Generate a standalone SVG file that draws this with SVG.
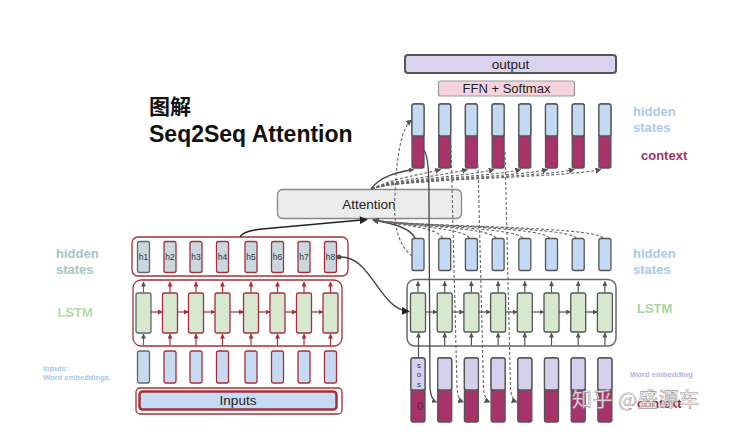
<svg xmlns="http://www.w3.org/2000/svg" width="733" height="437" viewBox="0 0 733 437">
<style>
.sans{font-family:"Liberation Sans",Arial,sans-serif}
.b{font-weight:bold}
.encR{stroke:#a3303c;stroke-width:1.3}
.encG{stroke:#666;stroke-width:1.3}
.dec{stroke:#555;stroke-width:1.3}
.hid{fill:#c9d8de}
.lstm{fill:#d6e9cf}
.emb{fill:#c6dbf2}
.dhid{fill:#c3daf5}
.ctx{fill:#a8336a}
.lav{fill:#d6d0ee}
.ra{stroke:#a3303c;stroke-width:1.2;fill:none;marker-end:url(#mr)}
.ga{stroke:#555;stroke-width:1.2;fill:none;marker-end:url(#mg)}
.ga0{stroke:#666;stroke-width:1.2;fill:none;marker-end:url(#mg)}
.dsh{stroke:#666;stroke-width:1.1;fill:none;stroke-dasharray:3 2}
.dsa{stroke:#666;stroke-width:1.1;fill:none;stroke-dasharray:3 2;marker-end:url(#md)}
.hl{font-size:8.5px;fill:#333;text-anchor:middle}
</style>
<defs>
<marker id="mr" viewBox="0 0 10 10" refX="9" refY="5" markerWidth="5" markerHeight="5" markerUnits="userSpaceOnUse" orient="auto"><path d="M0,0 L10,5 L0,10 z" fill="#a3303c"/></marker>
<marker id="mg" viewBox="0 0 10 10" refX="9" refY="5" markerWidth="5" markerHeight="5" markerUnits="userSpaceOnUse" orient="auto"><path d="M0,0 L10,5 L0,10 z" fill="#555"/></marker>
<marker id="md" viewBox="0 0 10 10" refX="9" refY="5" markerWidth="6" markerHeight="6" markerUnits="userSpaceOnUse" orient="auto"><path d="M0,0 L10,5 L0,10 z" fill="#555"/></marker>
<marker id="mb" viewBox="0 0 10 10" refX="9" refY="5" markerWidth="8" markerHeight="8" markerUnits="userSpaceOnUse" orient="auto"><path d="M0,0 L10,5 L0,10 z" fill="#222"/></marker>
</defs>
<rect width="733" height="437" fill="#fff"/>

<g id="title" class="sans b" fill="#111">
<text x="149" y="114" font-size="21" font-family="'Noto Sans CJK SC',sans-serif" font-weight="bold">图解</text>
<text x="149" y="141.5" font-size="23">Seq2Seq Attention</text>
</g>

<g id="left-labels" class="sans b">
<text x="56" y="258" font-size="13" fill="#a3c6c2">hidden</text>
<text x="56" y="274" font-size="13" fill="#a3c6c2">states</text>
<text x="57.5" y="317" font-size="13" fill="#b8d8a8">LSTM</text>
<text x="43" y="371" font-size="7.6" fill="#a9c6ea">Inputs:</text>
<text x="43" y="380" font-size="7.6" fill="#a9c6ea">Word embeddings</text>
</g>

<g id="right-labels" class="sans b">
<text x="633" y="116" font-size="13" fill="#a9c9ef">hidden</text>
<text x="633" y="132" font-size="13" fill="#a9c9ef">states</text>
<text x="641" y="160" font-size="13" fill="#a23465">context</text>
<text x="633" y="258" font-size="13" fill="#a9c9ef">hidden</text>
<text x="633" y="274" font-size="13" fill="#a9c9ef">states</text>
<text x="637" y="313" font-size="13" fill="#a8d5a0">LSTM</text>
<text x="630" y="377" font-size="7.7" fill="#b9b2dd">Word embedding</text>
<text x="637" y="408" font-size="12.5" fill="#8a2a50">context</text>
</g>

<!-- Encoder -->
<g id="enc-hidden">
<rect x="132" y="237" width="216" height="39" rx="6" fill="#fff" class="encR" stroke-width="1.5"/>
<rect x="137.5" y="241.5" width="12" height="31" rx="2" class="hid encG"/>
<rect x="164" y="241.5" width="12" height="31" rx="2" class="hid encR"/>
<rect x="190" y="241.5" width="12" height="31" rx="2" class="hid encR"/>
<rect x="216.5" y="241.5" width="12" height="31" rx="2" class="hid encR"/>
<rect x="245" y="241.5" width="12" height="31" rx="2" class="hid encR"/>
<rect x="271.5" y="241.5" width="12" height="31" rx="2" class="hid encR"/>
<rect x="298" y="241.5" width="12" height="31" rx="2" class="hid encR"/>
<rect x="324.5" y="241.5" width="12" height="31" rx="2" class="hid encR"/>
<g class="sans">
<text class="hl" x="143.5" y="260">h1</text>
<text class="hl" x="170" y="260">h2</text>
<text class="hl" x="196" y="260">h3</text>
<text class="hl" x="222.5" y="260">h4</text>
<text class="hl" x="251" y="260">h5</text>
<text class="hl" x="277.5" y="260">h6</text>
<text class="hl" x="304" y="260">h7</text>
<text class="hl" x="330.5" y="260">h8</text>
</g>
<circle cx="339" cy="257" r="2.5" fill="#555"/>
</g>

<g id="enc-lstm">
<rect x="133" y="280" width="209" height="66" rx="8" fill="#fff" class="encR" stroke-width="1.5"/>
<rect x="136" y="293" width="15" height="40" rx="2" class="lstm encG"/>
<rect x="162.5" y="293" width="15" height="40" rx="2" class="lstm encR"/>
<rect x="188.5" y="293" width="15" height="40" rx="2" class="lstm encR"/>
<rect x="215" y="293" width="15" height="40" rx="2" class="lstm encR"/>
<rect x="243.5" y="293" width="15" height="40" rx="2" class="lstm encR"/>
<rect x="270" y="293" width="15" height="40" rx="2" class="lstm encR"/>
<rect x="296.5" y="293" width="15" height="40" rx="2" class="lstm encR"/>
<rect x="323" y="293" width="15" height="40" rx="2" class="lstm encR"/>
</g>

<g id="enc-inputs">
<rect x="137.5" y="351" width="12" height="32" rx="2" class="emb encG"/>
<rect x="164" y="351" width="12" height="32" rx="2" class="emb encR"/>
<rect x="190" y="351" width="12" height="32" rx="2" class="emb encR"/>
<rect x="216.5" y="351" width="12" height="32" rx="2" class="emb encR"/>
<rect x="245" y="351" width="12" height="32" rx="2" class="emb encR"/>
<rect x="271.5" y="351" width="12" height="32" rx="2" class="emb encR"/>
<rect x="298" y="351" width="12" height="32" rx="2" class="emb encR"/>
<rect x="324.5" y="351" width="12" height="32" rx="2" class="emb encR"/>
</g>

<g id="inputs-box">
<rect x="136" y="388" width="206" height="26" rx="4" fill="#fff" class="encR"/>
<rect x="139.5" y="391.5" width="197" height="18" rx="3" class="emb" stroke="#a3303c" stroke-width="2.5"/>
<text x="238" y="405" font-size="13.5" text-anchor="middle" fill="#222" class="sans">Inputs</text>
</g>

<!-- Decoder -->
<g id="output">
<rect x="405" y="55" width="211" height="18" rx="3" fill="#dbd2ee" stroke="#555" stroke-width="2"/>
<text x="510.5" y="69" font-size="13.5" text-anchor="middle" fill="#222" class="sans">output</text>
</g>
<g id="ffn">
<rect x="438.5" y="81" width="136" height="15" rx="2" fill="#f4d3de" stroke="#999" stroke-width="1.2"/>
<text x="506.5" y="93.3" font-size="13" text-anchor="middle" fill="#222" class="sans">FFN + Softmax</text>
</g>

<g id="dec-top">
<rect x="412" y="104" width="12" height="64" rx="2" class="ctx dec"/><rect x="412" y="104" width="12" height="32" rx="2" class="dhid dec"/>
<rect x="438.7" y="104" width="12" height="64" rx="2" class="ctx dec"/><rect x="438.7" y="104" width="12" height="32" rx="2" class="dhid dec"/>
<rect x="465.4" y="104" width="12" height="64" rx="2" class="ctx dec"/><rect x="465.4" y="104" width="12" height="32" rx="2" class="dhid dec"/>
<rect x="492.1" y="104" width="12" height="64" rx="2" class="ctx dec"/><rect x="492.1" y="104" width="12" height="32" rx="2" class="dhid dec"/>
<rect x="518.8" y="104" width="12" height="64" rx="2" class="ctx dec"/><rect x="518.8" y="104" width="12" height="32" rx="2" class="dhid dec"/>
<rect x="545.5" y="104" width="12" height="64" rx="2" class="ctx dec"/><rect x="545.5" y="104" width="12" height="32" rx="2" class="dhid dec"/>
<rect x="572.2" y="104" width="12" height="64" rx="2" class="ctx dec"/><rect x="572.2" y="104" width="12" height="32" rx="2" class="dhid dec"/>
<rect x="598.9" y="104" width="12" height="64" rx="2" class="ctx dec"/><rect x="598.9" y="104" width="12" height="32" rx="2" class="dhid dec"/>
</g>

<g id="attention">
<rect x="277.5" y="189.5" width="184" height="29" rx="5" fill="#ececec" stroke="#888" stroke-width="1.3"/>
<text x="369" y="209" font-size="13.5" text-anchor="middle" fill="#222" class="sans">Attention</text>
</g>

<g id="dec-hidden">
<rect x="412" y="238.5" width="12" height="32" rx="2" class="dhid dec"/>
<rect x="438.7" y="238.5" width="12" height="32" rx="2" class="dhid dec"/>
<rect x="465.4" y="238.5" width="12" height="32" rx="2" class="dhid dec"/>
<rect x="492.1" y="238.5" width="12" height="32" rx="2" class="dhid dec"/>
<rect x="518.8" y="238.5" width="12" height="32" rx="2" class="dhid dec"/>
<rect x="545.5" y="238.5" width="12" height="32" rx="2" class="dhid dec"/>
<rect x="572.2" y="238.5" width="12" height="32" rx="2" class="dhid dec"/>
<rect x="598.9" y="238.5" width="12" height="32" rx="2" class="dhid dec"/>
</g>

<g id="dec-lstm">
<rect x="407" y="279.5" width="209" height="66.5" rx="8" fill="none" stroke="#666" stroke-width="1.5"/>
<rect x="410.5" y="293" width="15" height="39" rx="2" class="lstm dec"/>
<rect x="437.2" y="293" width="15" height="39" rx="2" class="lstm dec"/>
<rect x="463.9" y="293" width="15" height="39" rx="2" class="lstm dec"/>
<rect x="490.6" y="293" width="15" height="39" rx="2" class="lstm dec"/>
<rect x="517.3" y="293" width="15" height="39" rx="2" class="lstm dec"/>
<rect x="544" y="293" width="15" height="39" rx="2" class="lstm dec"/>
<rect x="570.7" y="293" width="15" height="39" rx="2" class="lstm dec"/>
<rect x="597.4" y="293" width="15" height="39" rx="2" class="lstm dec"/>
</g>

<g id="dec-inputs">
<rect x="411" y="358" width="14" height="64" rx="2" class="ctx dec"/><rect x="411" y="358" width="14" height="32" rx="2" class="lav dec"/>
<rect x="437.7" y="358" width="14" height="64" rx="2" class="ctx dec"/><rect x="437.7" y="358" width="14" height="32" rx="2" class="lav dec"/>
<rect x="464.4" y="358" width="14" height="64" rx="2" class="ctx dec"/><rect x="464.4" y="358" width="14" height="32" rx="2" class="lav dec"/>
<rect x="491.1" y="358" width="14" height="64" rx="2" class="ctx dec"/><rect x="491.1" y="358" width="14" height="32" rx="2" class="lav dec"/>
<rect x="517.8" y="358" width="14" height="64" rx="2" class="ctx dec"/><rect x="517.8" y="358" width="14" height="32" rx="2" class="lav dec"/>
<rect x="544.5" y="358" width="14" height="64" rx="2" class="ctx dec"/><rect x="544.5" y="358" width="14" height="32" rx="2" class="lav dec"/>
<rect x="571.2" y="358" width="14" height="64" rx="2" class="ctx dec"/><rect x="571.2" y="358" width="14" height="32" rx="2" class="lav dec"/>
<rect x="597.9" y="358" width="14" height="64" rx="2" class="ctx dec"/><rect x="597.9" y="358" width="14" height="32" rx="2" class="lav dec"/>
<g class="sans" fill="#333" font-size="8" text-anchor="middle">
<text x="419" y="368">s</text><text x="419" y="377">o</text><text x="419" y="387">s</text>
</g>
<text x="420" y="409.5" class="sans" font-size="11" text-anchor="middle" fill="#5a1030">0</text>
</g>

<g id="connectors">
<!-- encoder arrows -->
<line x1="143.5" y1="292.5" x2="143.5" y2="282" class="ga0"/>
<line x1="170" y1="292.5" x2="170" y2="282" class="ra"/>
<line x1="196" y1="292.5" x2="196" y2="282" class="ra"/>
<line x1="222.5" y1="292.5" x2="222.5" y2="282" class="ra"/>
<line x1="251" y1="292.5" x2="251" y2="282" class="ra"/>
<line x1="277.5" y1="292.5" x2="277.5" y2="282" class="ra"/>
<line x1="304" y1="292.5" x2="304" y2="282" class="ra"/>
<line x1="330.5" y1="292.5" x2="330.5" y2="282" class="ra"/>
<line x1="143.5" y1="345.5" x2="143.5" y2="334" class="ga0"/>
<line x1="170" y1="345.5" x2="170" y2="334" class="ra"/>
<line x1="196" y1="345.5" x2="196" y2="334" class="ra"/>
<line x1="222.5" y1="345.5" x2="222.5" y2="334" class="ra"/>
<line x1="251" y1="345.5" x2="251" y2="334" class="ra"/>
<line x1="277.5" y1="345.5" x2="277.5" y2="334" class="ra"/>
<line x1="304" y1="345.5" x2="304" y2="334" class="ra"/>
<line x1="330.5" y1="345.5" x2="330.5" y2="334" class="ra"/>
<line x1="151" y1="312" x2="162.5" y2="312" class="ra"/>
<line x1="177.5" y1="312" x2="188.5" y2="312" class="ra"/>
<line x1="203.5" y1="312" x2="215" y2="312" class="ra"/>
<line x1="230" y1="312" x2="243.5" y2="312" class="ra"/>
<line x1="258.5" y1="312" x2="270" y2="312" class="ra"/>
<line x1="285" y1="312" x2="296.5" y2="312" class="ra"/>
<line x1="311.5" y1="312" x2="323" y2="312" class="ra"/>
<!-- decoder arrows -->
<line x1="418" y1="292.5" x2="418" y2="281.5" class="ga"/>
<line x1="444.7" y1="292.5" x2="444.7" y2="281.5" class="ga"/>
<line x1="471.4" y1="292.5" x2="471.4" y2="281.5" class="ga"/>
<line x1="498.1" y1="292.5" x2="498.1" y2="281.5" class="ga"/>
<line x1="524.8" y1="292.5" x2="524.8" y2="281.5" class="ga"/>
<line x1="551.5" y1="292.5" x2="551.5" y2="281.5" class="ga"/>
<line x1="578.2" y1="292.5" x2="578.2" y2="281.5" class="ga"/>
<line x1="604.9" y1="292.5" x2="604.9" y2="281.5" class="ga"/>
<line x1="418.5" y1="358" x2="418.5" y2="333" class="ga"/>
<line x1="444.7" y1="345.5" x2="444.7" y2="333" class="ga"/>
<line x1="471.4" y1="345.5" x2="471.4" y2="333" class="ga"/>
<line x1="498.1" y1="345.5" x2="498.1" y2="333" class="ga"/>
<line x1="524.8" y1="345.5" x2="524.8" y2="333" class="ga"/>
<line x1="551.5" y1="345.5" x2="551.5" y2="333" class="ga"/>
<line x1="578.2" y1="345.5" x2="578.2" y2="333" class="ga"/>
<line x1="604.9" y1="345.5" x2="604.9" y2="333" class="ga"/>
<line x1="425.5" y1="312" x2="437.2" y2="312" class="ga"/>
<line x1="452.2" y1="312" x2="463.9" y2="312" class="ga"/>
<line x1="478.9" y1="312" x2="490.6" y2="312" class="ga"/>
<line x1="505.6" y1="312" x2="517.3" y2="312" class="ga"/>
<line x1="532.3" y1="312" x2="544" y2="312" class="ga"/>
<line x1="559" y1="312" x2="570.7" y2="312" class="ga"/>
<line x1="585.7" y1="312" x2="597.4" y2="312" class="ga"/>
<!-- encoder to attention -->
<path d="M240,237 Q243,231 262,229 L367,219.5" stroke="#222" stroke-width="1.6" fill="none" marker-end="url(#mb)"/>
<!-- h8 to decoder -->
<path d="M339,257 C372,255 378,309 409,311.5" stroke="#444" stroke-width="1.4" fill="none" marker-end="url(#mb)"/>
<!-- decoder hidden to attention (lower bundle) -->
<path d="M415,238 C410,228 395,224 373,220" stroke="#444" stroke-width="1.4" fill="none" marker-end="url(#mg)"/>
<path d="M442.7,238 C436,228 415,227 373,220" class="dsa"/>
<path d="M469.4,238 C462,228 415,227 373,220" class="dsa"/>
<path d="M496.1,238 C488,227 415,227 373,220" class="dsa"/>
<path d="M522.8,238 C514,227 415,227 373,220" class="dsa"/>
<path d="M549.5,238 C541,226 415,227 373,220" class="dsa"/>
<path d="M576.2,238 C567,226 415,227 373,220" class="dsa"/>
<path d="M602.9,238 C594,226 415,227 373,220" class="dsa"/>
<!-- attention to context (upper bundle) -->
<path d="M371,189 C380,176 398,172 413.5,169.5" stroke="#444" stroke-width="1.4" fill="none" marker-end="url(#mg)"/>
<path d="M372,189 C392,179 405,178 440.7,169.5" class="dsa"/>
<path d="M372,189 C392,179 432,178 467.4,169.5" class="dsa"/>
<path d="M372,189 C392,179 458,178 494.1,169.5" class="dsa"/>
<path d="M372,189 C392,179 485,178 520.8,169.5" class="dsa"/>
<path d="M372,189 C392,179 512,178 547.5,169.5" class="dsa"/>
<path d="M372,189 C392,179 538,178 574.2,169.5" class="dsa"/>
<path d="M372,189 C392,179 565,178 600.9,169.5" class="dsa"/>
<!-- copy hidden state -->
<path d="M412,256 C398,245 393,225 395,195 C397,150 402,128 411.5,120" class="dsa"/>
<!-- feed context to next inputs -->
<path d="M424,150 C428,156 429,170 429,200 L430,388 Q431,400 436.5,402" stroke="#444" stroke-width="1.3" fill="none" marker-end="url(#mg)"/>
<path d="M451,145 L457,388 Q458,400 463.5,402" class="dsa"/>
<path d="M478,165 L483.5,388 Q484.5,400 490,402" class="dsa"/>
<path d="M505,152 L510.5,388 Q511.5,400 517,402" class="dsa"/>
</g>

<g id="watermark">
<text x="572" y="407" font-size="20" textLength="127" font-family="'Noto Sans CJK SC','Liberation Sans',sans-serif" fill="#fff" fill-opacity="0.9" stroke="#999" stroke-width="0.6">知乎 @盛源车</text>
</g>
</svg>
